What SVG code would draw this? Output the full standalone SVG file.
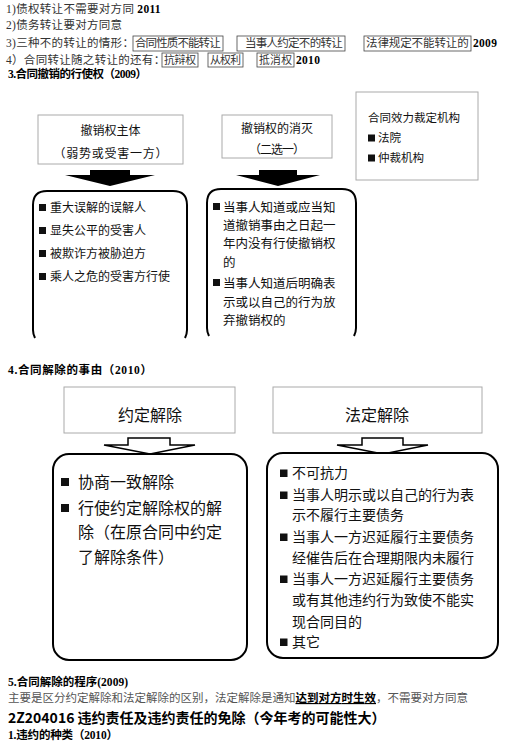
<svg xmlns="http://www.w3.org/2000/svg" width="517" height="756" viewBox="0 0 517 756">
<style>
.t{font-family:"Liberation Serif","Noto Sans CJK SC",serif;font-size:11.5px;fill:#333;letter-spacing:0.3px}
.tb{font-family:"Liberation Serif","Noto Sans CJK SC",serif;font-size:10.8px;fill:#333}
.b{font-family:"Liberation Serif","Noto Sans CJK SC",serif;font-weight:bold;fill:#000}
.h{font-family:"Liberation Serif","Noto Sans CJK SC",serif;font-weight:bold;font-size:11.5px;fill:#000}
.s{font-family:"Noto Sans CJK SC",sans-serif;fill:#111}
.ibox{fill:none;stroke:#444;stroke-width:0.8}
.gbox{fill:#fff;stroke:#aaa;stroke-width:1}
.rbox{fill:#fff;stroke:#000;stroke-width:2}
.bul{fill:#111}
.solid{fill:#000}
.hollow{fill:#fff;stroke:#000;stroke-width:1.5;stroke-linejoin:miter}
</style>

<g id="intro">
<text class="t" x="6" y="13">1)债权转让不需要对方同 <tspan class="b">2011</tspan></text>
<text class="t" x="6" y="29">2)债务转让要对方同意</text>
<text class="t" x="6" y="47">3)三种不的转让的情形：</text>
<rect class="ibox" x="133" y="36" width="90" height="15"/>
<text class="t" x="135" y="47" textLength="86">合同性质不能转让</text>
<rect class="ibox" x="237" y="36" width="108" height="15"/>
<text class="t" x="245" y="47" textLength="98">当事人约定不的转让</text>
<rect class="ibox" x="364" y="36" width="107" height="15"/>
<text class="t" x="366" y="47" textLength="103">法律规定不能转让的</text>
<text class="t b" x="473" y="47">2009</text>
<text class="t" x="6" y="64">4）合同转让随之转让的还有：</text>
<rect class="ibox" x="162" y="53" width="36" height="14"/>
<text class="tb" x="164" y="64" textLength="32">抗辩权</text>
<rect class="ibox" x="208" y="53" width="35" height="14"/>
<text class="tb" x="210" y="64" textLength="31">从权利</text>
<rect class="ibox" x="257" y="53" width="37" height="14"/>
<text class="tb" x="259" y="64" textLength="33">抵消权</text>
<text class="t b" x="296" y="64">2010</text>
<text class="h" x="8" y="78" textLength="139">3.合同撤销的行使权（2009）</text>
</g>

<g id="connectors">
<polygon class="solid" points="90,170 130,170 130,175 155,175 110,186 65,175 90,175"/>
<polygon class="solid" points="259,170 297,170 297,175 320,175 278,186 236,175 259,175"/>
<polygon class="hollow" points="128,438 170,438 170,445 195,445 150,454 104,445 128,445"/>
<polygon class="hollow" points="362,438 403,438 403,445 428,445 383,454 337,445 362,445"/>
</g>

<g id="n-subject">
<rect class="gbox" x="38" y="115" width="145" height="49"/>
<text class="s" x="110.5" y="135" font-size="12" text-anchor="middle">撤销权主体</text>
<text class="s" x="110.5" y="158" font-size="12" text-anchor="middle" textLength="114">（弱势或受害一方）</text>
</g>

<g id="n-subject-list">
<path class="rbox" d="M35,338 Q33,334 33,330 L33,205 Q33,191 47,191 L173,191 Q187,191 187,205 L187,330 Q187,334 185,338"/>
<rect class="bul" x="39" y="204" width="7" height="7"/>
<text class="s" x="50" y="212" font-size="12">重大误解的误解人</text>
<rect class="bul" x="39" y="227" width="7" height="7"/>
<text class="s" x="50" y="235" font-size="12">显失公平的受害人</text>
<rect class="bul" x="39" y="250" width="7" height="7"/>
<text class="s" x="50" y="258" font-size="12">被欺诈方被胁迫方</text>
<rect class="bul" x="39" y="273" width="7" height="7"/>
<text class="s" x="50" y="281" font-size="12">乘人之危的受害方行使</text>
</g>

<g id="n-extinction">
<rect class="gbox" x="222" y="115" width="110" height="43"/>
<text class="s" x="277" y="133" font-size="12" text-anchor="middle">撤销权的消灭</text>
<text class="s" x="277" y="154" font-size="12" text-anchor="middle" textLength="56">（二选一）</text>
</g>

<g id="n-extinction-list">
<path class="rbox" d="M209,336 Q207,332 207,328 L207,203 Q207,189 221,189 L342,189 Q356,189 356,203 L356,328 Q356,332 354,336"/>
<rect class="bul" x="213" y="203" width="7" height="7"/>
<text class="s" x="223" y="211.5" font-size="12.5">当事人知道或应当知</text>
<text class="s" x="223" y="229.5" font-size="12.5">道撤销事由之日起一</text>
<text class="s" x="223" y="247.5" font-size="12.5">年内没有行使撤销权</text>
<text class="s" x="223" y="266.5" font-size="12.5">的</text>
<rect class="bul" x="213" y="279" width="7" height="7"/>
<text class="s" x="223" y="287.5" font-size="12.5">当事人知道后明确表</text>
<text class="s" x="223" y="306.5" font-size="12.5">示或以自己的行为放</text>
<text class="s" x="223" y="324.5" font-size="12.5">弃撤销权的</text>
</g>

<g id="n-authority">
<rect class="gbox" x="356" y="92" width="122" height="88" stroke="#bbb"/>
<text class="s" x="368" y="122" font-size="11.5" textLength="92">合同效力裁定机构</text>
<rect class="bul" x="368" y="134.5" width="7" height="7"/>
<text class="s" x="378" y="142" font-size="11.5">法院</text>
<rect class="bul" x="368" y="154.5" width="7" height="7"/>
<text class="s" x="378" y="162" font-size="11.5">仲裁机构</text>
</g>

<g id="section4">
<text class="h" x="8" y="374" textLength="144">4.合同解除的事由（2010）</text>
</g>

<g id="n-agreed">
<rect class="gbox" x="64" y="387" width="171" height="46"/>
<text class="s" x="150" y="421" font-size="16" text-anchor="middle">约定解除</text>
</g>

<g id="n-legal">
<rect class="gbox" x="273" y="387" width="209" height="46"/>
<text class="s" x="377" y="421" font-size="16" text-anchor="middle">法定解除</text>
</g>

<g id="n-agreed-list">
<rect class="rbox" x="53" y="454" width="194" height="206" rx="16"/>
<rect class="bul" x="61" y="478" width="8" height="8"/>
<text class="s" x="78" y="488" font-size="16">协商一致解除</text>
<rect class="bul" x="61" y="504" width="8" height="8"/>
<text class="s" x="78" y="514" font-size="16">行使约定解除权的解</text>
<text class="s" x="78" y="538" font-size="16">除（在原合同中约定</text>
<text class="s" x="78" y="563" font-size="16">了解除条件）</text>
</g>

<g id="n-legal-list">
<rect class="rbox" x="267" y="453" width="231" height="205" rx="16"/>
<rect class="bul" x="280" y="469.5" width="7.5" height="7.5"/>
<text class="s" x="292" y="478" font-size="14">不可抗力</text>
<rect class="bul" x="280" y="491.5" width="7.5" height="7.5"/>
<text class="s" x="292" y="500" font-size="14">当事人明示或以自己的行为表</text>
<text class="s" x="292" y="520" font-size="14">示不履行主要债务</text>
<rect class="bul" x="280" y="533.5" width="7.5" height="7.5"/>
<text class="s" x="292" y="542" font-size="14">当事人一方迟延履行主要债务</text>
<text class="s" x="292" y="563" font-size="14">经催告后在合理期限内未履行</text>
<rect class="bul" x="280" y="575.5" width="7.5" height="7.5"/>
<text class="s" x="292" y="584" font-size="14">当事人一方迟延履行主要债务</text>
<text class="s" x="292" y="605" font-size="14">或有其他违约行为致使不能实</text>
<text class="s" x="292" y="627" font-size="14">现合同目的</text>
<rect class="bul" x="280" y="638.5" width="7.5" height="7.5"/>
<text class="s" x="292" y="647" font-size="14">其它</text>
</g>

<g id="footer">
<text class="h" x="8" y="686" font-size="11" textLength="120">5.合同解除的程序(2009)</text>
<text class="t" x="8" y="702" style="fill:#555;letter-spacing:0" textLength="460">主要是区分约定解除和法定解除的区别，法定解除是通知<tspan font-weight="bold" style="fill:#000" text-decoration="underline">达到对方时生效</tspan>，不需要对方同意</text>
<text x="8" y="723" font-family="Noto Sans CJK SC, sans-serif" font-size="14" font-weight="bold" fill="#000">2Z204016 违约责任及违约责任的免除（今年考的可能性大）</text>
<text class="h" x="8" y="739" font-size="11" textLength="110">1.违约的种类（2010）</text>
</g>
</svg>
